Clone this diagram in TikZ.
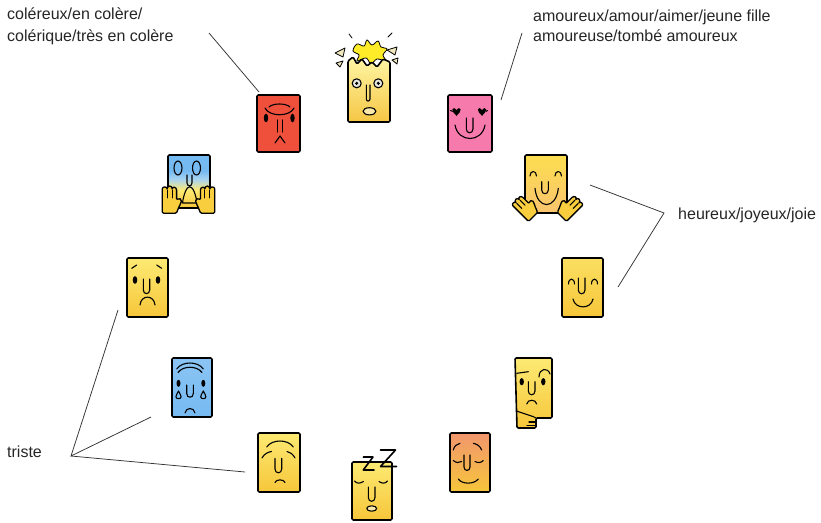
\documentclass[tikz,border=0pt]{standalone}
\usepackage{fontspec}
\setmainfont{Liberation Sans}

\definecolor{yelTop}{RGB}{253,234,115}
\definecolor{yelBot}{RGB}{246,198,58}
\definecolor{yelHand}{RGB}{248,206,62}
\definecolor{shockTop}{RGB}{255,246,165}
\definecolor{shockBot}{RGB}{245,198,68}
\definecolor{redFace}{RGB}{238,80,60}
\definecolor{pinkFace}{RGB}{246,122,172}
\definecolor{blueFace}{RGB}{118,186,242}
\definecolor{blueLight}{RGB}{170,212,240}
\definecolor{blush}{RGB}{248,172,142}
\definecolor{orangeTop}{RGB}{242,150,110}
\definecolor{splat}{RGB}{255,236,40}
\definecolor{shard}{RGB}{240,232,190}
\definecolor{eyeWhite}{RGB}{232,232,225}
\definecolor{mouthFill}{RGB}{250,232,170}

% blue forehead fading into a yellow chin
\pgfdeclareverticalshading{screamshade}{100bp}{color(0bp)=(yelBot); color(25bp)=(yelBot); color(42bp)=(yelTop); color(52bp)=(blueLight); color(60bp)=(blueFace); color(100bp)=(blueFace)}

% U-shaped nose: left x, right x, top y, y where the bend starts
\newcommand\unose[4]{\draw[feat] (#1,#3) -- (#1,#4) .. controls (#1,{#4+0.75*(#2-#1)}) and (#2,{#4+0.75*(#2-#1)}) .. (#2,#4) -- (#2,#3);}

\tikzset{
  face/.style={draw=black, line width=1.6pt, rounded corners=1.2pt, line join=round},
  feat/.style={draw=black, line width=1.1pt, line cap=round, line join=round},
  shardstyle/.style={draw=black, line width=0.8pt, line join=round, fill=shard},
  link/.style={draw=black!80, line width=0.75pt},
  lbl/.style={font=\fontsize{16}{22}\selectfont, anchor=base west, align=left, inner sep=0pt, text=black!85},
  pics/mitt/.style={code={
    \path[face, line width=1.3pt, fill=yelHand]
      (-7,12) -- (-7,-9)
      .. controls (-7,-12.5) and (-2.6,-12.5) .. (-2.6,-9)
      .. controls (-2.6,-13.5) and (2,-13.5) .. (2,-9)
      .. controls (2,-12.5) and (6,-12) .. (6,-8)
      -- (6,0)
      .. controls (8,-2) and (11,-1) .. (10,2)
      .. controls (9,5) and (7,8) .. (6,12) -- cycle;
    \draw[feat] (-2.6,-9) -- (-2.6,-2) (2,-9) -- (2,-2);
  }},
}

\begin{document}
\begin{tikzpicture}[x=1pt,y=-1pt]
\useasboundingbox (0,0) rectangle (821,522);
\fill[white] (0,0) rectangle (821,522);

% ---------- labels ----------
\node[lbl] (angryLbl) at (7,41.5) {coléreux/en colère/\\colérique/très en colère};
\node[lbl, font=\fontsize{16}{20}\selectfont] (loveLbl) at (533,41) {amoureux/amour/aimer/jeune fille\\amoureuse/tombé amoureux};
\node[lbl] (joyLbl) at (678,219) {heureux/joyeux/joie};
\node[lbl] (sadLbl) at (7,457) {triste};

% ---------- leader lines ----------
\coordinate (angryA) at (209,33);  \coordinate (angryB) at (259,92);
\coordinate (loveA) at (522,33);   \coordinate (loveB) at (501,100);
\coordinate (joyHub) at (664,213); \coordinate (joyA) at (590,185); \coordinate (joyB) at (618,287);
\coordinate (sadHub) at (71,456);  \coordinate (sadA) at (118,310);
\coordinate (sadB) at (151,417);   \coordinate (sadC) at (245,472);
\draw[link] (angryA) -- (angryB);
\draw[link] (loveA) -- (loveB);
\draw[link] (joyA) -- (joyHub) -- (joyB);
\draw[link] (sadA) -- (sadHub) -- (sadB);
\draw[link] (sadHub) -- (sadC);

% ---------- shocked face with bursting head ----------
\draw[line width=0.8pt, fill=splat] plot[smooth cycle, tension=0.6] coordinates
  {(353,51) (357,44) (364,46) (367,40) (372,45) (378,41) (381,47) (387,49) (383,55) (386,61) (377,59) (371,64) (366,58) (357,61) (359,55)};
\draw[shardstyle] (335,53) -- (345,48) -- (343,57) -- cycle;
\draw[shardstyle] (336,63) -- (343,61) -- (340,67) -- cycle;
\draw[shardstyle] (387,50) -- (397,47) -- (395,55) -- cycle;
\draw[shardstyle] (392,60) -- (398,58) -- (397,64) -- cycle;
\draw[feat, line width=0.8pt] (349,34) -- (352,38) (388,37) -- (392,33);
\begin{scope}[shift={(348,63)}]
  \path[face, top color=shockTop, bottom color=shockBot]
    (0,59) -- (0,-2) -- (5,-6) -- (9,1) -- (14,-4) -- (19,3) -- (24,-1) -- (29,4) -- (35,-4) -- (42,-1) -- (42,59) -- cycle;
  \draw[feat, fill=eyeWhite] (8.7,20.3) circle [radius=4.5];
  \draw[feat, fill=eyeWhite] (30.3,20.3) circle [radius=4.5];
  \fill (8.7,20.3) circle [radius=1.7];
  \fill (30.3,20.3) circle [radius=1.7];
  \unose{18.3}{22}{22}{36}
  \draw[feat, fill=mouthFill] (21.5,48.3) ellipse [x radius=6.5, y radius=3.6];
\end{scope}

% ---------- angry face ----------
\begin{scope}[shift={(257,95)}]
  \path[face, fill=redFace] (0,0) rectangle (43,57);
  \draw[feat] (12,12) .. controls (16,8) and (29,8) .. (33,12);
  \draw[feat] (8,13) .. controls (12,22) and (33,22) .. (37,13);
  \fill (9,23) ellipse [x radius=2.2, y radius=4.3];
  \fill (35.5,23) ellipse [x radius=2.2, y radius=4.3];
  \draw[feat] (20.5,25) -- (20.5,37) (25.5,25) -- (25.5,37);
  \draw[feat] (18,48) -- (23,41) -- (28,48);
\end{scope}

% ---------- face in love ----------
\begin{scope}[shift={(448,95)}]
  \path[face, fill=pinkFace] (0,0) rectangle (44,57);
  \foreach \hx in {8.5,34} {
    \fill[shift={(\hx,17)}] (0,3.8) .. controls (-2,1.6) and (-4.6,-0.4) .. (-4.2,-2.6)
      .. controls (-3.7,-4.7) and (-1,-4.3) .. (0,-2)
      .. controls (1,-4.3) and (3.7,-4.7) .. (4.2,-2.6)
      .. controls (4.6,-0.4) and (2,1.6) .. (0,3.8) -- cycle;
  }
  \draw[feat] (2.5,15.5) -- (4.5,16.3) (39.5,15.5) -- (38,16.3);
  \unose{18.3}{25}{23}{34}
  \draw[feat] (7,30) .. controls (10,48) and (34,48) .. (37,30);
\end{scope}

% ---------- screaming face ----------
\begin{scope}[shift={(168,155)}]
  \path[face, shading=screamshade] (0,0) rectangle (42,53);
  \draw[feat] (10,13) ellipse [x radius=4, y radius=7];
  \draw[feat] (28.5,13) ellipse [x radius=4, y radius=7];
  \unose{19}{24}{20}{28}
  \draw[feat] (14.5,48) .. controls (15.5,40) and (18.5,31.7) .. (21.7,31.7)
    .. controls (25,31.7) and (28,40) .. (29,48) -- cycle;
\end{scope}
\pic[scale=1.1] at (170,200) {mitt};
\pic[xscale=-1.1, yscale=1.1] at (207,200) {mitt};

% ---------- happy face waving ----------
\begin{scope}[shift={(525,155)}]
  \path[face, top color={rgb,255:red,252;green,222;blue,80}, middle color=blush, bottom color={rgb,255:red,250;green,196;blue,110}] (0,0) rectangle (42,58);
  \draw[feat] (5,21) .. controls (5,15) and (11.5,15) .. (11.5,21);
  \draw[feat] (30,21) .. controls (30,15) and (36.5,15) .. (36.5,21);
  \unose{16.7}{23.3}{26.7}{35}
  \draw[feat] (10,33.3) .. controls (12,55) and (31,55) .. (33.3,33.3);
\end{scope}
\pic[rotate=45] at (525,208) {mitt};
\pic[rotate=-45, xscale=-1] at (570,208) {mitt};

% ---------- sad face ----------
\begin{scope}[shift={(127,258)}]
  \path[face, top color=yelTop, bottom color=yelBot] (0,0) rectangle (41,59);
  \draw[feat] (4.7,10.3) -- (9.7,7) (29.7,7) -- (34.7,10.3);
  \fill (8,22) ellipse [x radius=2.3, y radius=3.8];
  \fill (31,22) ellipse [x radius=2.3, y radius=3.8];
  \unose{16.3}{22.7}{21}{32}
  \draw[feat] (13,47) .. controls (14,36.5) and (27,36.5) .. (28,47);
\end{scope}

% ---------- smiling face ----------
\begin{scope}[shift={(562,258)}]
  \path[face, top color=yelTop!70!yelBot, bottom color=yelBot] (0,0) rectangle (41,59);
  \draw[feat] (6.5,26) .. controls (6.5,19.5) and (12.5,19.5) .. (12.5,26);
  \draw[feat] (29.5,26) .. controls (29.5,19.5) and (35.5,19.5) .. (35.5,26);
  \unose{16.3}{23}{20}{32}
  \draw[feat] (11,41) .. controls (13,51.5) and (29,51.5) .. (31,41);
\end{scope}

% ---------- crying face ----------
\begin{scope}[shift={(172,358)}]
  \path[face, top color=blueFace!85!white, bottom color=blueFace] (0,0) rectangle (40,59);
  \draw[feat] (4.7,11) .. controls (10,3) and (26,3) .. (31.3,11);
  \draw[feat] (6,14.5) .. controls (11,7.5) and (25,7.5) .. (30,14.5);
  \fill (6.5,25.3) ellipse [x radius=2, y radius=3.5];
  \fill (31.3,25.3) ellipse [x radius=2, y radius=3.5];
  \foreach \tx in {6.5,31.3}
    \draw[feat, shift={(\tx,37)}] (0,-4) .. controls (-1.5,-1) and (-2.6,0.5) .. (-2.6,1.8)
      .. controls (-2.6,4.3) and (2.6,4.3) .. (2.6,1.8)
      .. controls (2.6,0.5) and (1.5,-1) .. (0,-4) -- cycle;
  \unose{14.7}{21.3}{27}{35.5}
  \draw[feat] (13,55) .. controls (14,49) and (22,49) .. (23,55);
\end{scope}

% ---------- thinking face ----------
\begin{scope}[shift={(515,358)}]
  \path[face, top color=yelTop, bottom color=yelBot]
    (0,0) -- (37,0) -- (37,60) -- (21,60) -- (21,70) -- (2,70) -- cycle;
  \draw[feat] (1.5,53) -- (18,58.5) -- (21,60);
  \draw[feat] (14,64) -- (21,64) (12,67.2) -- (21,67.2);
  \draw[feat] (1.7,15.3) -- (13.3,13.7);
  \draw[feat] (24,19) .. controls (24,10) and (33,9) .. (35,16);
  \fill (6.7,23.7) ellipse [x radius=2.2, y radius=3.6];
  \fill (28.3,23.7) ellipse [x radius=2.2, y radius=3.6];
  \unose{13.3}{20}{23.7}{33}
  \draw[feat] (11.7,46) .. controls (12.5,41) and (21,41) .. (21.7,46);
\end{scope}

% ---------- weary face ----------
\begin{scope}[shift={(258,433)}]
  \path[face, top color=yelTop, bottom color=yelBot] (0,0) rectangle (42,59);
  \draw[feat] (8.7,14) .. controls (14,6) and (30,6) .. (35.3,14);
  \draw[feat] (4,25) .. controls (6,21) and (10,19) .. (13.5,18.5);
  \draw[feat] (29,18.5) .. controls (32,19) and (35,21) .. (37,25);
  \unose{17}{23.7}{25.3}{36}
  \draw[feat] (17,49.5) .. controls (18,46) and (26,46) .. (27,49.5);
\end{scope}

% ---------- sleeping face ----------
\begin{scope}[shift={(352,462)}]
  \path[face, top color=yelTop, bottom color=yelBot] (0,0) rectangle (40,58);
  \draw[feat] (2.5,19) .. controls (5,22) and (8,21.5) .. (11.5,19.5);
  \draw[feat] (27,19.5) .. controls (30,21.5) and (33,22) .. (35.5,19);
  \unose{16.3}{23}{25}{35.5}
  \draw[feat, fill=mouthFill] (19.7,46.5) ellipse [x radius=5, y radius=2.7];
  \draw[feat, line width=1.6pt] (11.3,-5) -- (21,-5) -- (11.3,8) -- (22,8);
  \draw[feat, line width=1.6pt] (28.5,-12) -- (43.5,-12) -- (28.5,4.5) -- (44.5,4.5);
\end{scope}

% ---------- relieved face ----------
\begin{scope}[shift={(450,433)}]
  \path[face, top color=orangeTop, middle color=yelTop!60!yelBot, bottom color=yelBot] (0,0) rectangle (40,59);
  \draw[feat] (3.3,17) .. controls (4,13) and (7,11) .. (10,10.3);
  \draw[feat] (23.3,10.3) .. controls (27,11) and (30,13) .. (31.7,17);
  \draw[feat] (3.3,27.5) .. controls (6,30) and (9,30) .. (11.7,28.5);
  \draw[feat] (25,28.5) .. controls (28,30) and (31,30) .. (33.3,27.5);
  \unose{14}{20}{22}{34}
  \draw[feat] (8.3,46) .. controls (12,51.5) and (24,51.5) .. (28.3,46);
\end{scope}

\end{tikzpicture}
\end{document}
